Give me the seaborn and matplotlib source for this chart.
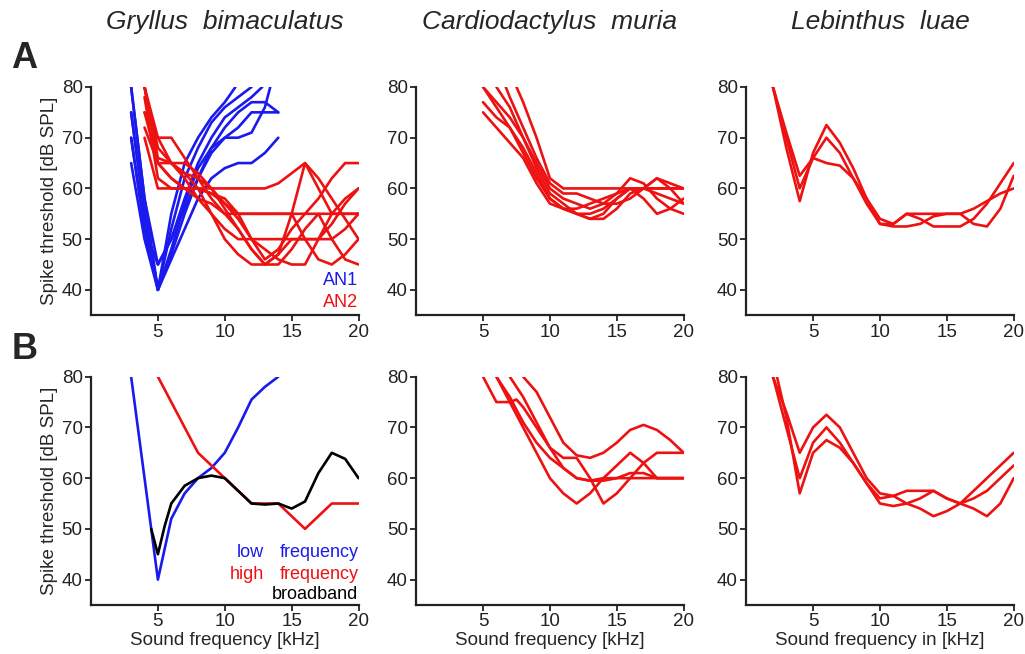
import pandas as pd
import seaborn as sns
import matplotlib.pyplot as plt
import numpy as np

#spike threshold tuning curves (kHz, dB SPL)

#A - Gryllus bimaculatus, AN1 (blue)
g_an1 = [
    ([3, 4, 5, 6, 7, 8, 9, 10, 10.8], [80, 58, 40, 55, 65, 70, 74, 77, 80]),
    ([3, 4, 5, 6, 7, 8, 9, 10, 11, 12], [75, 55, 40, 52, 62, 68, 73, 76, 78, 80]),
    ([3, 4, 5, 6, 7, 8, 9, 10, 11, 12, 12.8], [70, 52, 45, 50, 58, 65, 70, 74, 76, 78, 80]),
    ([3, 4, 5, 6, 7, 8, 9, 10, 11, 12, 13, 13.4], [65, 50, 40, 48, 57, 64, 68, 70, 70, 71, 76, 80]),
    ([3, 4, 5, 6, 7, 8, 9, 10, 11, 12, 13, 14], [80, 58, 45, 50, 56, 62, 67, 70, 72, 75, 75, 75]),
    ([3, 4, 5, 6, 7, 8, 9, 10, 11, 12, 13, 14], [75, 55, 40, 46, 52, 58, 62, 64, 65, 65, 67, 70]),
    ([3, 4, 5, 6, 7, 8, 9, 10, 11, 12, 13, 14], [70, 52, 40, 47, 55, 62, 68, 72, 75, 77, 77, 75]),
]
#A - Gryllus bimaculatus, AN2 (red)
g_an2 = [
    (list(range(4, 21)), [80, 65, 62, 60, 60, 60, 60, 60, 60, 60, 61, 63, 65, 62, 58, 54, 50]),
    (list(range(4, 21)), [75, 70, 70, 66, 62, 58, 55, 55, 55, 55, 55, 55, 55, 58, 62, 65, 65]),
    (list(range(4, 21)), [80, 70, 65, 63, 62, 60, 57, 54, 50, 48, 46, 45, 45, 50, 55, 58, 60]),
    (list(range(4, 21)), [70, 60, 60, 60, 60, 59, 57, 55, 55, 55, 55, 55, 50, 46, 45, 47, 50]),
    (list(range(4, 21)), [75, 65, 65, 65, 63, 60, 56, 52, 48, 45, 47, 50, 50, 50, 50, 52, 55]),
    (list(range(4, 21)), [80, 68, 65, 62, 58, 55, 52, 50, 50, 50, 50, 50, 50, 50, 53, 57, 60]),
    (list(range(4, 21)), [72, 65, 62, 60, 58, 57, 55, 52, 48, 45, 45, 48, 52, 55, 55, 55, 55]),
    (list(range(4, 21)), [78, 62, 60, 60, 60, 59, 58, 55, 50, 46, 48, 52, 55, 55, 50, 46, 45]),
    (list(range(4, 21)), [80, 66, 65, 63, 60, 55, 50, 47, 45, 45, 47, 55, 65, 60, 55, 55, 55]),
]

#A - Cardiodactylus muria
c_muria_a = [
    (list(range(5, 21)), [80, 77, 74, 70, 65, 60, 58, 57, 56, 57, 59, 62, 61, 58, 56, 55]),
    (list(range(5, 21)), [77, 74, 72, 68, 63, 58, 56, 55, 55, 56, 58, 60, 60, 62, 61, 60]),
    (list(range(5, 21)), [75, 72, 69, 66, 61, 57, 56, 56, 57, 58, 59, 60, 60, 60, 60, 60]),
    (list(range(6, 21)), [80, 76, 70, 64, 59, 57, 55, 54, 55, 58, 60, 58, 55, 56, 58]),
    ([6.7] + list(range(7, 21)), [80, 78, 72, 66, 61, 59, 59, 58, 57, 57, 58, 60, 62, 60, 57]),
    ([7.5] + list(range(8, 21)), [80, 77, 70, 62, 60, 60, 60, 60, 60, 60, 60, 60, 60, 60]),
    (list(range(5, 21)), [80, 76, 72, 67, 62, 58, 56, 55, 54, 54, 56, 59, 60, 59, 58, 57]),
]

#A - Lebinthus luae
l_luae_a = [
    (list(range(2, 21)), [80, 71, 62.5, 66, 65, 64.5, 62, 58, 54, 53, 55, 55, 55, 55, 55, 56, 57.5, 59, 60]),
    (list(range(2, 21)), [80, 70, 60, 66, 70, 67, 62, 57, 53, 52.5, 52.5, 53, 54.5, 55, 55, 53, 52.5, 56, 62.5]),
    (list(range(2, 21)), [80, 68, 57.5, 67, 72.5, 69, 64, 58, 53, 53, 55, 54, 52.5, 52.5, 52.5, 54, 57, 61, 65]),
]

#B - Gryllus bimaculatus, example neurons
g_low = ([3, 4, 4.5, 5, 5.5, 6, 7, 8, 9, 10, 11, 12, 13, 14],
         [80, 60, 50, 40, 46, 52, 57, 60, 62, 65, 70, 75.5, 78, 80])
g_high = (list(range(5, 21)),
          [80, 75, 70, 65, 62.5, 60, 57.5, 55, 55, 55, 52.5, 50, 52.5, 55, 55, 55])
g_broad = ([4.5, 5, 5.5, 6, 7, 8, 9, 10, 11, 12, 13, 14, 15, 16, 17, 18, 19, 20],
           [50, 45, 50.5, 55, 58.5, 60, 60.5, 60, 57.5, 55, 54.8, 55, 54, 55.4, 61, 65, 63.8, 60])

#B - Cardiodactylus muria
c_muria_b = [
    ([5, 6, 7, 7.5, 8, 9, 10, 11, 12, 13, 14, 15, 16, 17, 18, 19, 20],
     [80, 75, 75, 75.5, 74, 70, 66, 62, 60, 59.5, 60, 60, 60, 60, 60, 60, 60]),
    (list(range(6, 21)), [80, 75, 70, 65, 60, 57, 55, 57, 60, 62.5, 65, 63, 60, 60, 60]),
    (list(range(7, 21)), [80, 76, 71, 66, 64, 64, 60, 55, 57, 60, 63, 65, 65, 65]),
    (list(range(8, 21)), [80, 77, 72, 67, 64.5, 64, 65, 67, 69.5, 70.5, 69.5, 67.5, 65]),
    (list(range(6, 21)), [80, 76, 71, 67, 64, 62, 60, 59.5, 59.5, 60, 61, 61, 60, 60, 60]),
]

#B - Lebinthus luae
l_luae_b = [
    (list(range(2, 21)), [80, 73, 65, 70, 72.5, 70, 65, 60, 57, 56.5, 57.5, 57.5, 57.5, 56, 55, 54, 52.5, 55, 60]),
    (list(range(2, 21)), [80, 70, 60, 67, 70, 67, 63, 59, 55, 54.5, 55, 54, 52.5, 53.5, 55, 57.5, 60, 62.5, 65]),
    ([2.3] + list(range(3, 21)), [80, 72, 57, 65, 67.5, 66, 63, 59, 56, 56.5, 55, 56, 57.5, 56, 55, 56, 57.5, 60, 62.5]),
]

species = ["Gryllus  bimaculatus", "Cardiodactylus  muria", "Lebinthus  luae"]
xlabels = ["Sound frequency [kHz]", "Sound frequency [kHz]", "Sound frequency in [kHz]"]

BLUE = "#1a1aee"
RED = "#ee1111"


def to_df(curves):
    rows = []
    for i, (f, t) in enumerate(curves):
        for a, b in zip(f, t):
            rows.append({"freq": a, "thr": b, "curve": i})
    return pd.DataFrame(rows)


def draw(ax, curves, color):
    sns.lineplot(data=to_df(curves), x="freq", y="thr", units="curve", estimator=None,
                 sort=False, color=color, lw=1.9, ax=ax, legend=False)


sns.set_style("ticks")
plt.rcParams['font.family'] = ['Liberation Sans', 'DejaVu Sans']

fig = plt.figure(figsize=(10.25, 6.54), dpi=100)

lefts = [0.0888, 0.406, 0.728]
width = 0.261
bottoms = [0.518, 0.075]
height = 0.349

axes = [[fig.add_axes([l, b, width, height]) for l in lefts] for b in bottoms]

draw(axes[0][0], g_an1, BLUE)
draw(axes[0][0], g_an2, RED)
draw(axes[0][1], c_muria_a, RED)
draw(axes[0][2], l_luae_a, RED)

draw(axes[1][0], [g_low], BLUE)
draw(axes[1][0], [g_high], RED)
draw(axes[1][0], [g_broad], "black")
draw(axes[1][1], c_muria_b, RED)
draw(axes[1][2], l_luae_b, RED)

for r in range(2):
    for c in range(3):
        ax = axes[r][c]
        ax.set_xlim(0, 20)
        ax.set_ylim(35, 80)
        ax.set_xticks([5, 10, 15, 20])
        ax.set_yticks([40, 50, 60, 70, 80])
        ax.tick_params(labelsize=13.5, length=4, width=1.3, pad=2, colors="#222222")
        sns.despine(ax=ax)
        for s in ["left", "bottom"]:
            ax.spines[s].set_linewidth(1.6)
            ax.spines[s].set_color("#222222")
        ax.set_xlabel(xlabels[c] if r == 1 else "", fontsize=13.5, labelpad=1)
        ax.set_ylabel("Spike threshold [dB SPL]" if c == 0 else "", fontsize=13.5, labelpad=3)

#legend texts
axes[0][0].text(20, 41.8, "AN1", color=BLUE, ha="right", va="center", fontsize=13)
axes[0][0].text(20, 37.5, "AN2", color=RED, ha="right", va="center", fontsize=13)
axes[1][0].text(12.9, 45.4, "low", color=BLUE, ha="right", va="center", fontsize=13)
axes[1][0].text(20, 45.4, "frequency", color=BLUE, ha="right", va="center", fontsize=13)
axes[1][0].text(12.9, 41.0, "high", color=RED, ha="right", va="center", fontsize=13)
axes[1][0].text(20, 41.0, "frequency", color=RED, ha="right", va="center", fontsize=13)
axes[1][0].text(20, 37.0, "broadband", color="black", ha="right", va="center", fontsize=13)

#species titles and panel letters
for c in range(3):
    fig.text(lefts[c] + width / 2, 0.966, species[c], ha="center", va="center",
             fontsize=19, style="italic")
fig.text(0.024, 0.911, "A", fontsize=26, fontweight="bold", ha="center", va="center")
fig.text(0.024, 0.466, "B", fontsize=26, fontweight="bold", ha="center", va="center")

fig.savefig("out.png", dpi=100)
